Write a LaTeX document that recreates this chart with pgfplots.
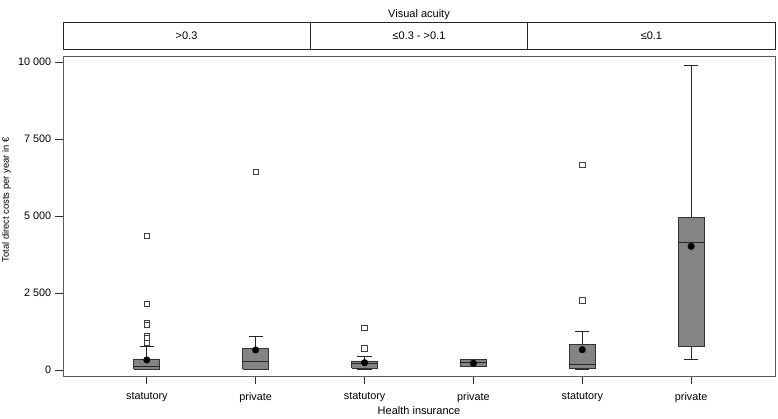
\documentclass[border=0pt]{standalone}
\usepackage{pgfplots}
\pgfplotsset{compat=1.18}
\usepackage{fontspec}
\setmainfont{Liberation Sans}
\definecolor{boxgray}{RGB}{132,132,132}
\definecolor{framegray}{RGB}{90,90,90}
\begin{document}
\fontsize{11}{13}\selectfont
\begin{tikzpicture}[font=\fontsize{11}{13}\selectfont]
\useasboundingbox (0,0) rectangle (778pt,419pt);
\begin{axis}[
  at={(63pt,43pt)}, anchor=south west,
  scale only axis, width=712pt, height=320pt,
  xmin=-0.77, xmax=5.77, ymin=-195, ymax=10195,
  clip=false,
  scaled y ticks=false,
  axis line style={framegray, line width=0.9pt},
  tick pos=left, tick align=outside,
  major tick length=8pt,
  tick style={black!80, line width=0.8pt},
  every tick label/.append style={font=\fontsize{10.8}{13}\selectfont},
  xtick={0,1,2,3,4,5},
  xticklabels={statutory,private,statutory,private,statutory,private},
  xticklabel style={yshift=-5pt},
  ytick={0,2500,5000,7500,10000},
  yticklabels={0,2 500,5 000,7 500,10 000},
  xlabel={Health insurance},
  ylabel={Total direct costs per year in €},
  every axis x label/.style={at={(axis description cs:0.5,0)}, anchor=center, yshift=-35pt, font=\fontsize{11}{13}\selectfont},
  every axis y label/.style={at={(axis description cs:-0.0795,0.55)}, rotate=90, anchor=center, font=\fontsize{9.4}{11}\selectfont},
  boxst/.style={draw=black!80, fill=boxgray, line width=0.8pt, mark=none},
  wst/.style={black!85, line width=0.8pt, mark=none},
]
% ---- box 0 : statutory, >0.3 (q1=32, med=130, q3=357, whiskers 5 / 757)
\addplot[wst] coordinates {(0,357)(0,757)};
\addplot[wst] coordinates {(-0.065,757)(0.065,757)};
\addplot[wst] coordinates {(0,5)(0,32)};
\addplot[wst] coordinates {(-0.065,5)(0.065,5)};
\addplot[boxst] coordinates {(-0.12,32)(0.12,32)(0.12,357)(-0.12,357)(-0.12,32)};
\addplot[wst] coordinates {(-0.12,130)(0.12,130)};
% ---- box 1 : private, >0.3 (q1=20, med=270, q3=704, whiskers 10 / 1082)
\addplot[wst] coordinates {(1,704)(1,1082)};
\addplot[wst] coordinates {(0.935,1082)(1.065,1082)};
\addplot[wst] coordinates {(0.935,10)(1.065,10)};
\addplot[boxst] coordinates {(0.88,20)(1.12,20)(1.12,704)(0.88,704)(0.88,20)};
\addplot[wst] coordinates {(0.88,270)(1.12,270)};
% ---- box 2 : statutory, <=0.3->0.1 (q1=54, med=217, q3=292, whiskers 5 / 433)
\addplot[wst] coordinates {(2,292)(2,433)};
\addplot[wst] coordinates {(1.935,433)(2.065,433)};
\addplot[wst] coordinates {(2,5)(2,54)};
\addplot[wst] coordinates {(1.935,5)(2.065,5)};
\addplot[boxst] coordinates {(1.88,54)(2.12,54)(2.12,292)(1.88,292)(1.88,54)};
\addplot[wst] coordinates {(1.88,217)(2.12,217)};
% ---- box 3 : private, <=0.3->0.1 (q1=108, med=238, q3=346)
\addplot[boxst] coordinates {(2.88,108)(3.12,108)(3.12,346)(2.88,346)(2.88,108)};
\addplot[wst] coordinates {(2.88,238)(3.12,238)};
% ---- box 4 : statutory, <=0.1 (q1=54, med=195, q3=834, whiskers 5 / 1266)
\addplot[wst] coordinates {(4,834)(4,1266)};
\addplot[wst] coordinates {(3.935,1266)(4.065,1266)};
\addplot[wst] coordinates {(4,5)(4,54)};
\addplot[wst] coordinates {(3.935,5)(4.065,5)};
\addplot[boxst] coordinates {(3.88,54)(4.12,54)(4.12,834)(3.88,834)(3.88,54)};
\addplot[wst] coordinates {(3.88,195)(4.12,195)};
% ---- box 5 : private, <=0.1 (q1=779, med=4146, q3=4958, whiskers 347 / 9880)
\addplot[wst] coordinates {(5,4958)(5,9880)};
\addplot[wst] coordinates {(4.935,9880)(5.065,9880)};
\addplot[wst] coordinates {(5,347)(5,779)};
\addplot[wst] coordinates {(4.935,347)(5.065,347)};
\addplot[boxst] coordinates {(4.88,779)(5.12,779)(5.12,4958)(4.88,4958)(4.88,779)};
\addplot[wst] coordinates {(4.88,4146)(5.12,4146)};
% outliers
\addplot[only marks, mark=square*, mark size=2.7pt, draw=black!75, fill=white, line width=0.8pt]
  coordinates {(0,4360)(0,2150)(0,1530)(0,1460)(0,1100)(0,1030)(0,880)
               (1,6440)
               (2,1364)(2,704)
               (4,6656)(4,2262)};
% means
\addplot[only marks, mark=*, mark size=3.3pt, black]
  coordinates {(0,325)(1,650)(2,238)(3,217)(4,660)(5,4016)};
% strip
\draw[black!85, line width=0.9pt] (axis cs:-0.77,10422) rectangle (axis cs:5.77,11299);
\draw[black!85, line width=0.9pt] (axis cs:1.5,10422) -- (axis cs:1.5,11299);
\draw[black!85, line width=0.9pt] (axis cs:3.5,10422) -- (axis cs:3.5,11299);
\node[font=\fontsize{11}{13}\selectfont] at (axis cs:0.365,10860) {>0.3};
\node[font=\fontsize{11}{13}\selectfont] at (axis cs:2.5,10860) {≤0.3 - >0.1};
\node[font=\fontsize{11}{13}\selectfont] at (axis cs:4.635,10860) {≤0.1};
\node[font=\fontsize{11}{13}\selectfont] at (axis cs:2.5,11530) {Visual acuity};
\end{axis}
\end{tikzpicture}
\end{document}
